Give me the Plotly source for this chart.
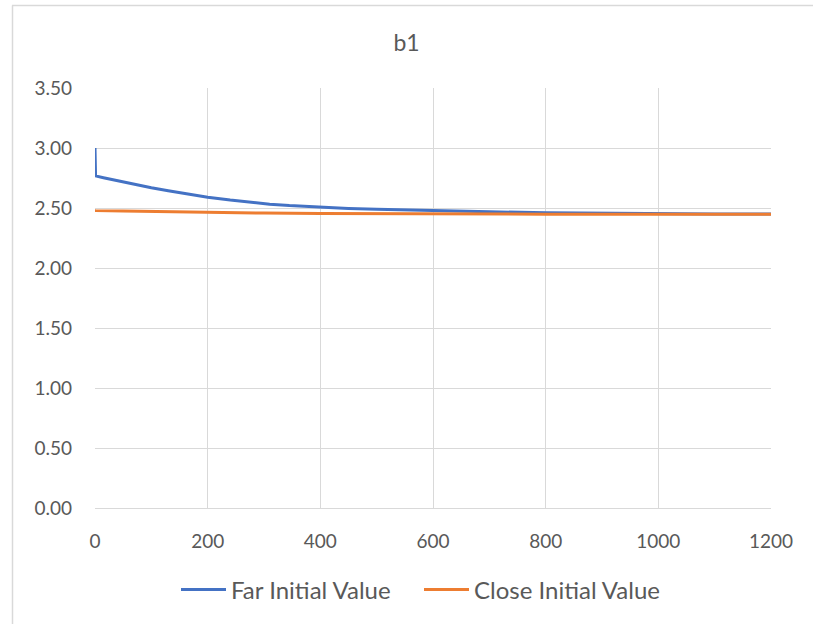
import plotly.graph_objects as go

far_x = [0, 1, 15, 30, 45, 60, 80, 100, 130, 165, 200, 240, 275, 310, 345, 400, 450, 500, 550, 600, 700, 800, 900, 1000, 1100, 1200]
far_y = [3.00, 2.767, 2.752, 2.737, 2.721, 2.706, 2.687, 2.669, 2.644, 2.616, 2.59, 2.566, 2.547, 2.532, 2.52, 2.505, 2.496, 2.489, 2.483, 2.478, 2.468, 2.461, 2.456, 2.453, 2.451, 2.45]

close_x = [0, 1, 50, 100, 200, 300, 400, 500, 600, 700, 800, 1000, 1200]
close_y = [2.48, 2.479, 2.474, 2.47, 2.463, 2.458, 2.455, 2.452, 2.45, 2.449, 2.448, 2.447, 2.447]

x_ticks = [0, 200, 400, 600, 800, 1000, 1200]
y_ticks = [0, 0.5, 1.0, 1.5, 2.0, 2.5, 3.0, 3.5]

W, H = 813, 624
L, R, T, B = 95, 42, 88, 116
pw, ph = W - L - R, H - T - B

def px(x):
    return (x - L) / pw

def py(y):
    return (H - B - y) / ph

fig = go.Figure()
fig.add_trace(go.Scatter(x=far_x, y=far_y, mode="lines", name="Far Initial Value",
                         line=dict(color="#4472C4", width=3)))
fig.add_trace(go.Scatter(x=close_x, y=close_y, mode="lines", name="Close Initial Value",
                         line=dict(color="#ED7D31", width=3)))

font_family = "Lato, Carlito, Calibri, sans-serif"
fig.update_layout(
    width=W, height=H,
    margin=dict(l=L, r=R, t=T, b=B),
    paper_bgcolor="white", plot_bgcolor="white",
    title=dict(text="b1", x=0.5, xref="container", xanchor="center", y=1 - 43 / H, yanchor="middle",
               font=dict(family=font_family, size=23, color="#595959")),
    font=dict(family=font_family, size=19, color="#595959"),
    xaxis=dict(range=[0, 1200], tickvals=x_ticks, ticktext=[str(v) for v in x_ticks],
               showgrid=True, gridcolor="#d9d9d9", gridwidth=1, zeroline=False,
               showline=True, linecolor="#d9d9d9", linewidth=1, mirror=False,
               ticks="", ticklabelstandoff=16, tickfont=dict(size=19, color="#595959")),
    yaxis=dict(range=[0, 3.5], tickvals=y_ticks, ticktext=[f"{v:.2f}" for v in y_ticks],
               showgrid=True, gridcolor="#d9d9d9", gridwidth=1, zeroline=False,
               showline=False, ticks="", ticklabelstandoff=22,
               tickfont=dict(size=19, color="#595959")),
    legend=dict(orientation="h", x=px(176), xanchor="left", y=py(590), yanchor="middle",
                font=dict(size=24, color="#595959"), itemwidth=45, tracegroupgap=0,
                entrywidth=183),
    showlegend=True,
)

# chart border (light gray frame)
fig.add_shape(type="line", xref="paper", yref="paper", x0=px(12), x1=px(W + 5), y0=py(5.5), y1=py(5.5),
              line=dict(color="#d9d9d9", width=1.5))
fig.add_shape(type="line", xref="paper", yref="paper", x0=px(12.5), x1=px(12.5), y0=py(5.5), y1=py(H + 5),
              line=dict(color="#d9d9d9", width=1.5))

fig.write_html("out.html")
